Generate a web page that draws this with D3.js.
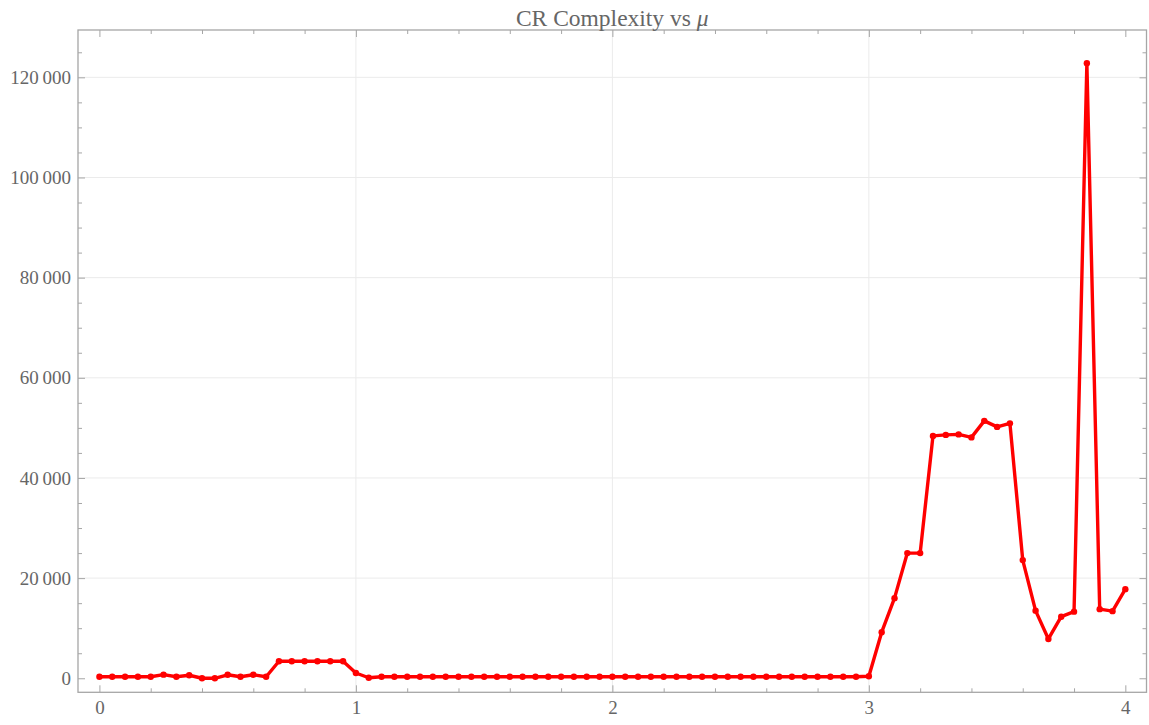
<!DOCTYPE html>
<html>
<head>
<meta charset="utf-8">
<script src="https://cdn.jsdelivr.net/npm/d3@7"></script>
<style>
  html, body { margin: 0; padding: 0; background: #fff; }
  svg { display: block; }
</style>
</head>
<body>
<svg id="chart"></svg>
<script>
// Data
var mu = [0, 0.05, 0.1, 0.15, 0.2, 0.25, 0.3, 0.35, 0.4, 0.45,
          0.5, 0.55, 0.6, 0.65, 0.7, 0.75, 0.8, 0.85, 0.9, 0.95,
          1, 1.05, 1.1, 1.15, 1.2, 1.25, 1.3, 1.35, 1.4, 1.45,
          1.5, 1.55, 1.6, 1.65, 1.7, 1.75, 1.8, 1.85, 1.9, 1.95,
          2, 2.05, 2.1, 2.15, 2.2, 2.25, 2.3, 2.35, 2.4, 2.45,
          2.5, 2.55, 2.6, 2.65, 2.7, 2.75, 2.8, 2.85, 2.9, 2.95,
          3, 3.05, 3.1, 3.15, 3.2, 3.25, 3.3, 3.35, 3.4, 3.45,
          3.5, 3.55, 3.6, 3.65, 3.7, 3.75, 3.8, 3.85, 3.9, 3.95, 4];
var complexity = [300, 300, 300, 300, 300, 720, 300, 600, 0, 0,
                  700, 300, 700, 300, 3400, 3400, 3400, 3400, 3400, 3400,
                  1060, 100, 300, 300, 300, 300, 300, 300, 300, 300,
                  300, 300, 300, 300, 300, 300, 300, 300, 300, 300,
                  300, 300, 300, 300, 300, 300, 300, 300, 300, 300,
                  300, 300, 300, 300, 300, 300, 300, 300, 300, 300,
                  400, 9200, 16000, 25000, 25000, 48400, 48600, 48700, 48100, 51400,
                  50200, 50900, 23600, 13500, 7850, 12300, 13300, 122800, 13800, 13400, 17800];
var xTicks = [0, 1, 2, 3, 4];
var yTicks = [0, 20000, 40000, 60000, 80000, 100000, 120000];
var xGrid = [1, 2, 3];
var yGrid = [20000, 40000, 60000, 80000, 100000, 120000];
var titleText = "CR Complexity vs ";
var titleSymbol = "\u03bc";

var width = 1149, height = 725;
var frame = { left: 78, right: 1146.5, top: 30, bottom: 692.3 };
var labelColor = "#666";
var frameColor = "#a6a6a6";
var serif = "'Liberation Serif', 'Times New Roman', serif";

var svg = d3.select("#chart").attr("width", width).attr("height", height);

var x = d3.scaleLinear().domain([-0.0835, 4.0825]).range([frame.left, frame.right]);
var y = d3.scaleLinear().domain([-2800, 129450]).range([frame.bottom, frame.top]);

var fmt = d3.formatLocale({ decimal: ".", thousands: "\u2009", grouping: [3], currency: ["", ""] }).format(",d");

// grid lines
svg.append("g").selectAll("line.gx").data(xGrid).enter().append("line")
    .attr("x1", function (d) { return x(d); }).attr("x2", function (d) { return x(d); })
    .attr("y1", frame.top).attr("y2", frame.bottom)
    .attr("stroke", "#ebebeb").attr("stroke-width", 1);
svg.append("g").selectAll("line.gy").data(yGrid).enter().append("line")
    .attr("y1", function (d) { return y(d); }).attr("y2", function (d) { return y(d); })
    .attr("x1", frame.left).attr("x2", frame.right)
    .attr("stroke", "#ebebeb").attr("stroke-width", 1);

// axes: ticks point inward, minor ticks from the scale
var plotW = frame.right - frame.left, plotH = frame.bottom - frame.top;
var xMinor = d3.range(0, 4.0001, 0.2).filter(function (v) { return Math.abs(v - Math.round(v)) > 1e-6; });
var yMinor = y.ticks(26).filter(function (v) { return v % 20000 !== 0 && v >= 0; });

function tickStyle(g) {
    g.select(".domain").remove();
    g.selectAll("line").attr("stroke", frameColor);
    g.selectAll("text").attr("fill", labelColor)
        .style("font-family", serif)
        .style("font-size", "19px");
}

// bottom
svg.append("g").attr("transform", "translate(0," + frame.bottom + ")")
    .call(d3.axisBottom(x).tickValues(xTicks).tickSize(-7).tickPadding(8).tickFormat(d3.format("d")))
    .call(tickStyle);
svg.append("g").attr("transform", "translate(0," + frame.bottom + ")")
    .call(d3.axisBottom(x).tickValues(xMinor).tickSize(-4).tickFormat(""))
    .call(tickStyle);
// top
svg.append("g").attr("transform", "translate(0," + frame.top + ")")
    .call(d3.axisTop(x).tickValues(xTicks).tickSize(-7).tickFormat(""))
    .call(tickStyle);
svg.append("g").attr("transform", "translate(0," + frame.top + ")")
    .call(d3.axisTop(x).tickValues(xMinor).tickSize(-4).tickFormat(""))
    .call(tickStyle);
// left
svg.append("g").attr("transform", "translate(" + frame.left + ",0)")
    .call(d3.axisLeft(y).tickValues(yTicks).tickSize(-7).tickPadding(7).tickFormat(fmt))
    .call(tickStyle);
svg.append("g").attr("transform", "translate(" + frame.left + ",0)")
    .call(d3.axisLeft(y).tickValues(yMinor).tickSize(-4).tickFormat(""))
    .call(tickStyle);
// right
svg.append("g").attr("transform", "translate(" + frame.right + ",0)")
    .call(d3.axisRight(y).tickValues(yTicks).tickSize(-7).tickFormat(""))
    .call(tickStyle);
svg.append("g").attr("transform", "translate(" + frame.right + ",0)")
    .call(d3.axisRight(y).tickValues(yMinor).tickSize(-4).tickFormat(""))
    .call(tickStyle);

// frame
svg.append("rect")
    .attr("x", frame.left).attr("y", frame.top)
    .attr("width", plotW).attr("height", plotH)
    .attr("fill", "none").attr("stroke", frameColor).attr("stroke-width", 1.3);

// series
var pts = mu.map(function (m, i) { return [m, complexity[i]]; });
var line = d3.line()
    .x(function (d) { return x(d[0]); })
    .y(function (d) { return y(d[1]); });

svg.append("path").datum(pts)
    .attr("d", line)
    .attr("fill", "none")
    .attr("stroke", "#ff0000")
    .attr("stroke-width", 3.4)
    .attr("stroke-linejoin", "round");

svg.append("g").selectAll("circle").data(pts).enter().append("circle")
    .attr("cx", function (d) { return x(d[0]); })
    .attr("cy", function (d) { return y(d[1]); })
    .attr("r", 3.2)
    .attr("fill", "#ff0000");

// title
var title = svg.append("text")
    .attr("x", (frame.left + frame.right) / 2)
    .attr("y", 26)
    .attr("text-anchor", "middle")
    .attr("fill", labelColor)
    .style("font-family", serif)
    .style("font-size", "23.5px");
title.append("tspan").text(titleText);
title.append("tspan").style("font-style", "italic").text(titleSymbol);
</script>
</body>
</html>
